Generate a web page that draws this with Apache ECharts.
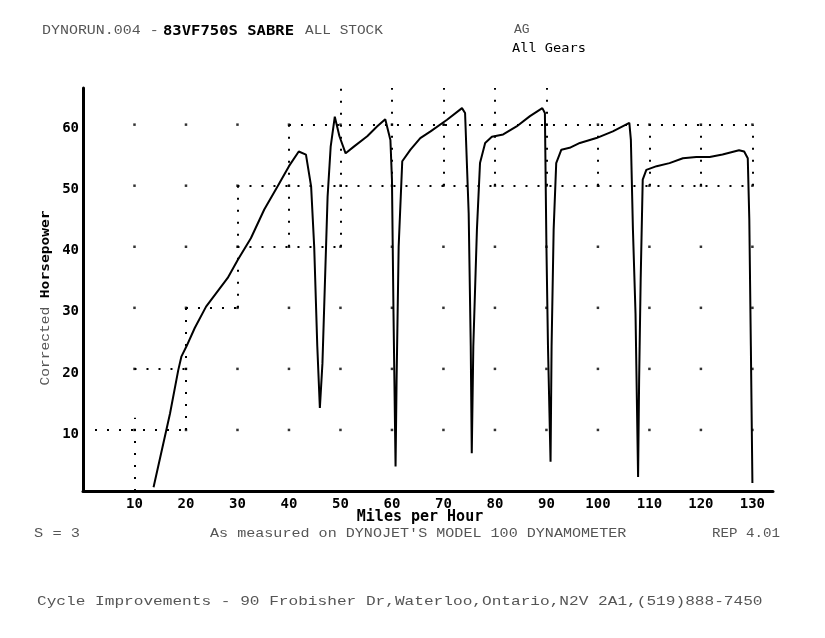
<!DOCTYPE html>
<html>
<head>
<meta charset="utf-8">
<script src="https://cdn.jsdelivr.net/npm/echarts@6/dist/echarts.min.js"></script>
<style>
html,body{margin:0;padding:0;background:#fff;}
#chart{width:825px;height:638px;}
</style>
</head>
<body>
<div id="chart"></div>
<script>
// ---- data ----
var speed = [13.7,16.9,18.5,19.1,20.1,21.7,23.9,28.1,30.1,32.6,35.2,37.8,40.0,41.9,43.3,44.3,44.9,45.5,46.0,46.5,47.5,48.1,48.9,49.8,51.0,52.6,55.2,57.1,58.7,59.7,60.0,60.3,60.7,60.9,61.3,62.0,63.6,65.5,67.5,70.7,73.6,74.2,74.9,75.3,75.5,75.8,76.5,77.1,78.1,79.4,81.6,84.2,86.8,89.2,89.7,90.0,90.3,90.8,91.0,91.4,91.9,92.9,94.5,96.5,99.7,102.9,106.1,106.4,106.8,107.3,107.8,108.0,108.3,108.7,109.4,111.4,113.9,116.5,119.1,121.7,124.2,127.4,128.4,129.1,129.4,129.7,130.0];
var power = [0.6,12.7,19.8,22.0,23.7,26.7,30.2,34.9,37.9,41.4,46.1,49.9,53.2,55.6,55.1,49.9,40.0,23.7,13.6,20.9,48.2,56.4,61.3,58.1,55.3,56.4,58.1,59.7,60.9,57.5,51.0,29.1,4.0,18.2,40.0,54.0,55.9,57.8,58.9,60.8,62.7,61.9,45.5,23.7,6.2,23.7,42.8,53.7,57.0,58.0,58.4,59.7,61.4,62.7,61.9,40.0,23.7,4.8,23.7,42.8,53.7,55.9,56.2,57.0,57.8,58.9,60.3,57.5,42.8,29.1,2.3,18.2,34.6,51.0,52.6,53.2,53.7,54.5,54.7,54.7,55.1,55.8,55.6,54.5,44.4,23.7,1.3];
var xTicks = [10,20,30,40,50,60,70,80,90,100,110,120,130];
var yTicks = [10,20,30,40,50,60];
// dotted guide segments [x1, y1, x2, y2]
var guideSegments = [
  [10,0,10,12],[0,10,20,10],[10,20,20,20],[20,10,20,30],[20,30,30,30],
  [30,30,30,50],[30,40,50,40],[30,50,130,50],[40,40,40,60],[40,60,130,60],
  [50,40,50,66],[60,50,60,66],[70,50,70,66],[80,50,80,66],[90,50,90,66],
  [100,50,100,60],[110,50,110,60],[120,50,120,60],[130,50,130,60]
];

var curve = speed.map(function(s,i){return [s, power[i]];});
var lattice = [];
xTicks.forEach(function(x){ yTicks.forEach(function(y){ lattice.push([x,y]); }); });
var guides = guideSegments.map(function(g){ return {coords: [[g[0],g[1]],[g[2],g[3]]]}; });

var FAINT = '13px "Liberation Mono"';
var FAINT_COLOR = '#555';
var BOLD = 'bold 14px "DejaVu Sans Mono"';
function txt(x, y, text, font, scaleX, fill, align){
  return {type:'text', x:x, y:y, scaleX:scaleX||1, silent:true,
    style:{text:text, font:font, fill:fill||'#000',
      align:align||'left', textAlign:align||'left',
      verticalAlign:'middle', textVerticalAlign:'middle'}};
}

var chart = echarts.init(document.getElementById('chart'));
chart.setOption({
  animation:false,
  backgroundColor:'#fff',
  grid:{left:83, right:52, top:88, bottom:147},
  xAxis:{type:'value', min:0, max:134, interval:10,
    axisLine:{lineStyle:{color:'#000', width:3}},
    axisTick:{show:false}, splitLine:{show:false},
    axisLabel:{color:'#000', fontFamily:'DejaVu Sans Mono', fontWeight:'bold', fontSize:14, margin:6,
      formatter:function(v){ return xTicks.indexOf(v) >= 0 ? String(v) : ''; }}
  },
  yAxis:{type:'value', min:0, max:66, interval:10,
    axisLine:{show:true, lineStyle:{color:'#000', width:3}},
    axisTick:{show:false}, splitLine:{show:false},
    axisLabel:{color:'#000', fontFamily:'DejaVu Sans Mono', fontWeight:'bold', fontSize:14, margin:4,
      verticalAlign:'top', lineHeight:8,
      formatter:function(v){ return yTicks.indexOf(v) >= 0 ? String(v) : ''; }}
  },
  series:[
    {type:'lines', coordinateSystem:'cartesian2d', silent:true, data:guides,
     lineStyle:{color:'#000', width:2, type:[2,10], opacity:1}},
    {type:'scatter', data:lattice, symbol:'rect', symbolSize:2.5, silent:true,
     itemStyle:{color:'#000'}},
    {type:'line', data:curve, showSymbol:false, smooth:false, silent:true,
     lineStyle:{color:'#000', width:2}}
  ],
  graphic:[
    txt(42, 31, 'DYNORUN.004 -', FAINT, 1.15, FAINT_COLOR),
    txt(163, 31, '83VF750S SABRE', BOLD, 1.11, '#000'),
    txt(305, 31, 'ALL STOCK', FAINT, 1.11, FAINT_COLOR),
    txt(514, 30, 'AG', FAINT, 1.0, FAINT_COLOR),
    txt(512, 49, 'All Gears', '13px "DejaVu Sans Mono"', 1.05, '#000'),
    txt(420, 517, 'Miles per Hour', 'bold 15px "DejaVu Sans Mono"', 1.0, '#000', 'center'),
    txt(34, 534, 'S = 3', FAINT, 1.18, FAINT_COLOR),
    txt(210, 534, "As measured on DYNOJET'S MODEL 100 DYNAMOMETER", FAINT, 1.16, FAINT_COLOR),
    txt(712, 534, 'REP 4.01', FAINT, 1.09, FAINT_COLOR),
    txt(37, 602, 'Cycle Improvements - 90 Frobisher Dr,Waterloo,Ontario,N2V 2A1,(519)888-7450', FAINT, 1.24, FAINT_COLOR),
    {type:'text', x:46, y:298, rotation:Math.PI/2, scaleX:1.12, silent:true,
     style:{text:'{a|Corrected }{b|Horsepower}', align:'center', textAlign:'center',
       verticalAlign:'middle', textVerticalAlign:'middle',
       rich:{a:{font:FAINT, fill:FAINT_COLOR}, b:{font:'bold 13px "DejaVu Sans Mono"', fill:'#000'}}}}
  ]
});
</script>
</body>
</html>
